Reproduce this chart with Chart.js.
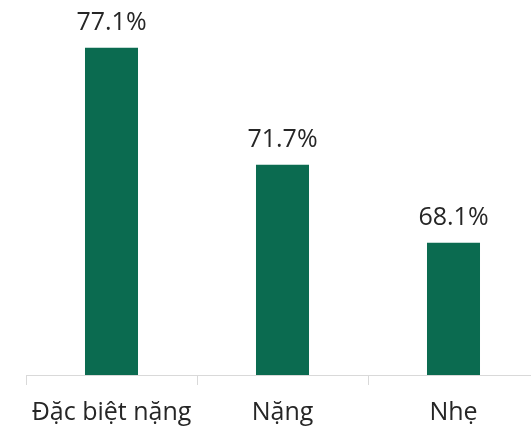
<!DOCTYPE html>
<html>
<head>
<meta charset="utf-8">
<script src="https://cdn.jsdelivr.net/npm/chart.js@4"></script>
<style>
html,body{margin:0;padding:0;background:#fff;overflow:hidden;width:531px;height:427px;}
#wrap{position:absolute;left:0;top:0;width:545px;height:445px;}
</style>
</head>
<body>
<div id="wrap"><canvas id="c" width="545" height="445"></canvas></div>
<script>
const categories = ["Đặc biệt nặng", "Nặng", "Nhẹ"];
const values = [77.1, 71.7, 68.1];
const valueLabels = ["77.1%", "71.7%", "68.1%"];

const FONT = "'Open Sans', sans-serif";
const labelPlugin = {
  id: 'valueLabels',
  afterDatasetsDraw(chart) {
    const ctx = chart.ctx;
    const meta = chart.getDatasetMeta(0);
    ctx.save();
    ctx.font = "25px " + FONT;
    ctx.fillStyle = "#262626";
    ctx.textAlign = "center";
    ctx.textBaseline = "alphabetic";
    meta.data.forEach((bar, i) => {
      ctx.fillText(valueLabels[i], bar.x, bar.y - 17.5);
    });
    ctx.restore();
  }
};

new Chart(document.getElementById('c'), {
  type: 'bar',
  data: {
    labels: categories,
    datasets: [{
      data: values,
      backgroundColor: '#0b6b50',
      borderWidth: 0,
      categoryPercentage: 1,
      barPercentage: 0.31
    }]
  },
  options: {
    responsive: false,
    devicePixelRatio: 1,
    animation: false,
    layout: { padding: { left: 26, right: 6, top: 0, bottom: 4 } },
    plugins: { legend: { display: false }, tooltip: { enabled: false } },
    scales: {
      y: { display: false, min: 62, max: 79.3 },
      x: {
        border: { display: true, color: '#d9d9d9', width: 1 },
        grid: { display: true, drawOnChartArea: false, drawTicks: true, tickLength: 10, color: '#d9d9d9', offset: true },
        ticks: { color: '#262626', font: { family: FONT, size: 25 }, padding: 13, maxRotation: 0 }
      }
    }
  },
  plugins: [labelPlugin]
});
</script>
</body>
</html>
